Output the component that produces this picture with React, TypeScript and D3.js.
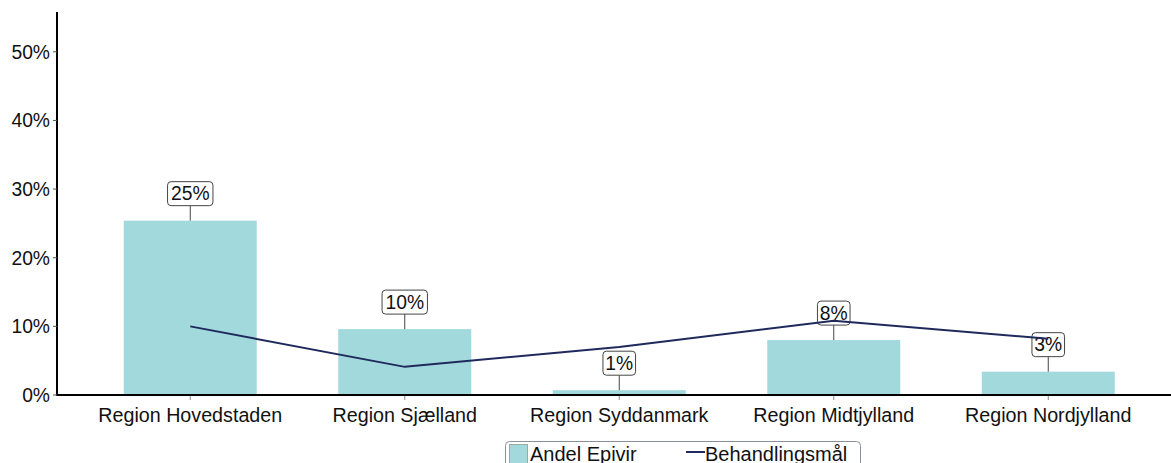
import React from "react";
import * as d3 from "d3";

const categories = ["Region Hovedstaden", "Region Sjælland", "Region Syddanmark", "Region Midtjylland", "Region Nordjylland"];
const andelEpivir = [0.254, 0.096, 0.007, 0.080, 0.034];
const behandlingsmaal = [0.100, 0.041, 0.070, 0.108, 0.082];
const yTicks = [0, 0.1, 0.2, 0.3, 0.4, 0.5];
const legendLabels = ["Andel Epivir", "Behandlingsmål"];

const W = 1171;
const H = 463;
const BAR = "#a2d9dc";
const LINE = "#1f2a5c";
const FONT = "'Liberation Sans', Arial, sans-serif";

export default function App() {
  const axisX = 57;
  const baseY = 395;
  const x = d3.scaleBand<string>().domain(categories).range([83, 1155.5]).paddingInner(0.38).paddingOuter(0.19);
  const y = d3.scaleLinear().domain([0, 0.558]).range([baseY, 12]);
  const cx = (c: string) => (x(c) ?? 0) + x.bandwidth() / 2;
  const line = d3.line<number>().x((_, i) => cx(categories[i])).y((d) => y(d));
  const fmt = (v: number) => `${Math.round(v * 100)}%`;
  const textW = (s: string) => s.length * 12.8;

  return (
    <svg width={W} height={H} style={{ position: "absolute", left: 0, top: 0, background: "#fff" }} fontFamily={FONT}>
      {/* bars */}
      {andelEpivir.map((v, i) => (
        <rect key={i} x={x(categories[i])} y={y(v)} width={x.bandwidth()} height={baseY - y(v)} fill={BAR} />
      ))}
      {/* axes */}
      <line x1={axisX} x2={W} y1={baseY} y2={baseY} stroke="#000" strokeWidth={2} />
      <line x1={axisX} x2={axisX} y1={y.range()[1]} y2={baseY + 1} stroke="#000" strokeWidth={2} />
      {yTicks.map((t) => (
        <g key={t}>
          <line x1={axisX - 4} x2={axisX} y1={y(t)} y2={y(t)} stroke="#555" strokeWidth={1} />
          <text x={axisX - 7} y={y(t)} dy="0.36em" textAnchor="end" fontSize={19.3} fill="#111">
            {`${Math.round(t * 100)}%`}
          </text>
        </g>
      ))}
      {categories.map((c) => (
        <g key={c}>
          <line x1={cx(c)} x2={cx(c)} y1={baseY + 1} y2={baseY + 5} stroke="#888" strokeWidth={1} />
          <text x={cx(c)} y={baseY + 26.5} textAnchor="middle" fontSize={19.7} fill="#111">
            {c}
          </text>
        </g>
      ))}
      {/* value labels */}
      {andelEpivir.map((v, i) => {
        const c = cx(categories[i]);
        const top = y(v);
        const s = fmt(v);
        const bw = textW(s) + 7;
        const bb = top - 15;
        return (
          <g key={i}>
            <line x1={c} x2={c} y1={bb} y2={top} stroke="#444" strokeWidth={1} />
            <rect x={c - bw / 2} y={bb - 24} width={bw} height={24} rx={3.5} fill="#fff" stroke="#444" strokeWidth={1} />
            <text x={c} y={bb - 5.5} textAnchor="middle" fontSize={19.3} fill="#111">
              {s}
            </text>
          </g>
        );
      })}
      {/* target line */}
      <path d={line(behandlingsmaal) ?? ""} fill="none" stroke={LINE} strokeWidth={2} />
      {/* legend */}
      <rect x={505.5} y={441.5} width={355} height={40} rx={4} fill="#fff" stroke="#8a8fa0" strokeWidth={1} />
      <rect x={509.5} y={444.5} width={18} height={30} fill={BAR} stroke="#9aa" strokeWidth={1} />
      <text x={530} y={460.5} fontSize={20} fill="#111">{legendLabels[0]}</text>
      <line x1={686} x2={705} y1={452} y2={452} stroke={LINE} strokeWidth={2} />
      <text x={705} y={460.5} fontSize={20} fill="#111">{legendLabels[1]}</text>
    </svg>
  );
}
